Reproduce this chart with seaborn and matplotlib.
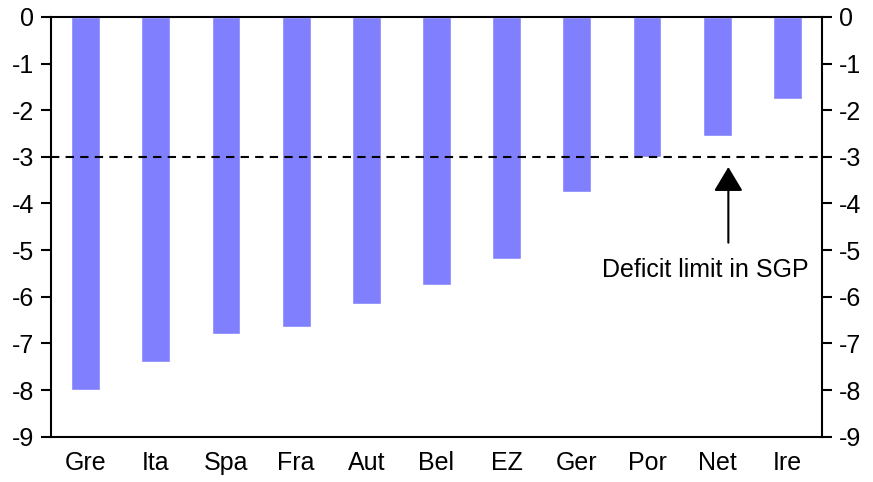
import matplotlib
matplotlib.use("Agg")
import matplotlib.pyplot as plt
import seaborn as sns
import pandas as pd

# Budget balances (% of GDP)
paises = ["Gre", "Ita", "Spa", "Fra", "Aut", "Bel", "EZ", "Ger", "Por", "Net", "Ire"]
saldo = [-8.0, -7.4, -6.8, -6.65, -6.15, -5.75, -5.2, -3.75, -3.0, -2.55, -1.75]
limite_sgp = -3.0

df = pd.DataFrame({"pais": paises, "saldo": saldo})

sns.set_style("white")
plt.rcParams["font.family"] = ["Liberation Sans", "DejaVu Sans"]
plt.rcParams["font.size"] = 18
plt.rcParams["text.color"] = "black"
plt.rcParams["xtick.color"] = "black"
plt.rcParams["ytick.color"] = "black"

fig, ax = plt.subplots(figsize=(8.73, 4.82), dpi=100)
sns.barplot(data=df, x="pais", y="saldo", color="#8080FF", saturation=1,
            width=0.41, ax=ax)

ax.set_ylim(-9, 0)
ax.set_xlim(-0.5, len(paises) - 0.5)
ax.set_yticks(range(-9, 1))
ax.set_yticklabels([str(v) for v in range(-9, 1)], fontsize=18)
ax.set_xlabel("")
ax.set_ylabel("")

# ticks between categories on the x axis
ax.set_xticks([i + 0.5 for i in range(-1, len(paises))], minor=False)
ax.set_xticklabels([])
ax.set_xticks(range(len(paises)), minor=True)
ax.set_xticklabels(paises, minor=True, fontsize=18)
ax.tick_params(axis="x", which="minor", length=0, pad=10)
ax.tick_params(axis="x", which="major", direction="out", length=6, width=1.5)
ax.tick_params(axis="y", direction="out", length=7, width=1.5, pad=5)

for s in ax.spines.values():
    s.set_linewidth(1.5)
    s.set_color("black")
    s.set_visible(True)

ax2 = ax.twinx()
ax2.set_ylim(-9, 0)
ax2.set_yticks(range(-9, 1))
ax2.set_yticklabels([str(v) for v in range(-9, 1)], fontsize=18)
ax2.tick_params(axis="y", direction="out", length=7, width=1.5, pad=5)
for s in ax2.spines.values():
    s.set_visible(False)

ax.axhline(limite_sgp, color="black", linestyle=(0, (4, 3)), linewidth=1.5)

ax.annotate("", xy=(9.16, -3.16), xytext=(9.16, -4.9),
            arrowprops=dict(arrowstyle="-|>,head_length=0.5,head_width=0.3",
                            color="black", lw=1.5, mutation_scale=30))
ax.text(8.83, -5.43, "Deficit limit in SGP", ha="center", va="center", fontsize=18)

plt.subplots_adjust(left=0.058, right=0.942, top=0.965, bottom=0.094)
plt.savefig("out.png", dpi=100)
